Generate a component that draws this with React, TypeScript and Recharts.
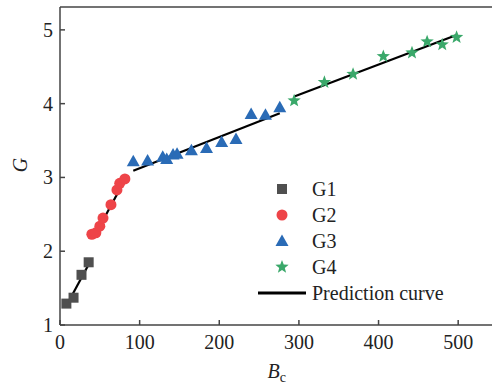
import React from 'react';
import { ComposedChart, Scatter, Line, XAxis, YAxis, ReferenceLine } from 'recharts';

const g1X = [8, 17, 27, 36];
const g1Y = [1.29, 1.37, 1.68, 1.85];
const g2X = [40, 45, 50, 54, 64, 71.5, 75, 81.5];
const g2Y = [2.23, 2.25, 2.34, 2.45, 2.63, 2.83, 2.92, 2.98];
const g3X = [92, 110, 129, 134, 142, 147, 165, 184, 203, 221, 240, 258, 276];
const g3Y = [3.22, 3.23, 3.28, 3.25, 3.31, 3.32, 3.37, 3.4, 3.48, 3.52, 3.86, 3.85, 3.95];
const g4X = [294, 332, 368, 406, 442, 461, 480, 498];
const g4Y = [4.04, 4.29, 4.4, 4.64, 4.69, 4.84, 4.8, 4.9];

// prediction curve segments: [x0, y0, x1, y1]
const fit1 = [7.5, 1.25, 37, 1.84];
const fit2 = [42, 2.18, 83, 3.0];
const fit3 = [92, 3.09, 276, 3.87];
const fit4 = [295, 4.1, 498, 4.93];

const xTicks = [0, 100, 200, 300, 400, 500];
const yTicks = [1, 2, 3, 4, 5];
const yMax = 5.31;

const toPts = (xs: number[], ys: number[]) => xs.map((x, i) => ({ x, y: ys[i] }));
const toSeg = (f: number[]) => [{ x: f[0], y: f[1] }, { x: f[2], y: f[3] }];

const COLORS = { g1: '#4f4f4f', g2: '#ee4448', g3: '#2a6bb6', g4: '#3aa86a' };
const FONT = '"Liberation Serif", "Times New Roman", serif';
const AXIS = '#444';

const starPath = (cx: number, cy: number, r: number) => {
  const pts: string[] = [];
  for (let i = 0; i < 10; i++) {
    const rr = i % 2 === 0 ? r : r * 0.42;
    const a = -Math.PI / 2 + (i * Math.PI) / 5;
    pts.push(`${cx + rr * Math.cos(a)},${cy + rr * Math.sin(a)}`);
  }
  return 'M' + pts.join('L') + 'Z';
};

const Marker = ({ kind, cx, cy, color }: { kind: string; cx: number; cy: number; color: string }) => {
  if (kind === 'square') return <rect x={cx - 5} y={cy - 5} width={10} height={10} fill={color} />;
  if (kind === 'circle') return <circle cx={cx} cy={cy} r={5.5} fill={color} />;
  if (kind === 'triangle')
    return <path d={`M${cx},${cy - 6.5}L${cx + 6.5},${cy + 5}L${cx - 6.5},${cy + 5}Z`} fill={color} />;
  return <path d={starPath(cx, cy, 7)} fill={color} />;
};

const shapeFor = (kind: string, color: string) => (props: any) =>
  <Marker kind={kind} cx={props.cx} cy={props.cy} color={color} />;

const legendItems = [
  { name: 'G1', kind: 'square', color: COLORS.g1 },
  { name: 'G2', kind: 'circle', color: COLORS.g2 },
  { name: 'G3', kind: 'triangle', color: COLORS.g3 },
  { name: 'G4', kind: 'star', color: COLORS.g4 },
];

const LegendBox = () => (
  <div style={{ position: 'absolute', left: 258, top: 176, fontFamily: FONT, fontSize: 20, color: '#222', lineHeight: '26px' }}>
    {legendItems.map((it) => (
      <div key={it.name} style={{ display: 'flex', alignItems: 'center', height: 26 }}>
        <svg width={48} height={26}>
          <Marker kind={it.kind} cx={24} cy={13} color={it.color} />
        </svg>
        <span style={{ marginLeft: 6 }}>{it.name}</span>
      </div>
    ))}
    <div style={{ display: 'flex', alignItems: 'center', height: 26 }}>
      <svg width={48} height={26}>
        <line x1={0} x2={48} y1={13} y2={13} stroke="#000" strokeWidth={3} />
      </svg>
      <span style={{ marginLeft: 6 }}>Prediction curve</span>
    </div>
  </div>
);

const XTick = (props: any) => (
  <text x={props.x} y={props.y} dy={14} textAnchor="middle" fontFamily={FONT} fontSize={20} fill="#222">
    {props.payload.value}
  </text>
);

const YTick = (props: any) => (
  <text x={props.x} y={props.y} dy={7} textAnchor="end" fontFamily={FONT} fontSize={20} fill="#222">
    {props.payload.value}
  </text>
);

const XLabel = (props: any) => {
  const vb = props.viewBox;
  return (
    <text x={vb.x + vb.width * 0.495} y={378} textAnchor="middle" fontFamily={FONT} fontSize={20} fill="#222">
      <tspan fontStyle="italic">B</tspan>
      <tspan fontSize={14} dy={4}>c</tspan>
    </text>
  );
};

const YLabel = () => (
  <text x={27} y={165} transform="rotate(-90 27 165)" textAnchor="middle" fontFamily={FONT} fontSize={20}
    fontStyle="italic" fill="#222">
    G
  </text>
);

export default function App() {
  return (
    <div style={{ position: 'fixed', left: 0, top: 0, width: 492, height: 385, overflow: 'hidden', background: '#fff', fontFamily: FONT }}>
      <ComposedChart width={500} height={385} margin={{ top: 7, right: 2, bottom: 0, left: 0 }}>
        <XAxis
          type="number"
          dataKey="x"
          domain={[0, 550]}
          ticks={xTicks}
          height={60}
          allowDataOverflow
          stroke={AXIS}
          strokeWidth={1.5}
          tickSize={-5}
          tickMargin={15}
          tick={<XTick />}
          label={<XLabel />}
        />
        <YAxis
          type="number"
          dataKey="y"
          domain={[1, yMax]}
          ticks={yTicks}
          width={60}
          allowDataOverflow
          stroke={AXIS}
          strokeWidth={1.5}
          tickSize={-5}
          tickMargin={12}
          tick={<YTick />}
          label={<YLabel />}
        />
        <ReferenceLine y={yMax} stroke={AXIS} strokeWidth={1.5} />
        <Scatter data={toPts(g1X, g1Y)} shape={shapeFor('square', COLORS.g1)} isAnimationActive={false} />
        <Scatter data={toPts(g2X, g2Y)} shape={shapeFor('circle', COLORS.g2)} isAnimationActive={false} />
        <Scatter data={toPts(g3X, g3Y)} shape={shapeFor('triangle', COLORS.g3)} isAnimationActive={false} />
        <Scatter data={toPts(g4X, g4Y)} shape={shapeFor('star', COLORS.g4)} isAnimationActive={false} />
        {[fit1, fit2, fit3, fit4].map((f, i) => (
          <Line key={i} data={toSeg(f)} dataKey="y" type="linear" stroke="#000" strokeWidth={2.2}
            dot={false} activeDot={false} isAnimationActive={false} />
        ))}
      </ComposedChart>
      <LegendBox />
    </div>
  );
}
